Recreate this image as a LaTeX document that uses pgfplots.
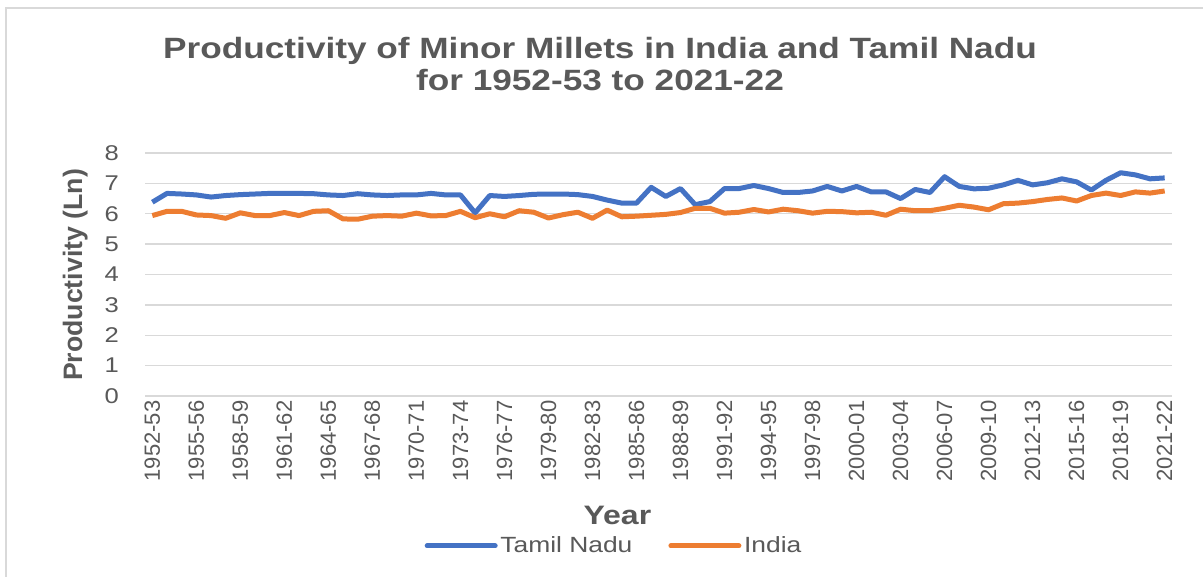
\documentclass[border=0pt]{standalone}
\usepackage{fontspec}
\usepackage{pgfplots}
\usepackage{pgfplotstable}
\pgfplotsset{compat=1.18}
\setmainfont[FakeStretch=1.2]{Liberation Sans}
\newfontfamily\plainsans{Liberation Sans}
\definecolor{tnblue}{HTML}{4472C4}
\definecolor{inorange}{HTML}{ED7D31}
\definecolor{txtgray}{HTML}{595959}
\definecolor{gridgray}{HTML}{D9D9D9}

% year index (0 = 1952-53), Tamil Nadu, India
\pgfplotstableread{
x  tn    in
0  6.38  5.94
1  6.67  6.08
2  6.65  6.08
3  6.62  5.96
4  6.55  5.94
5  6.60  5.85
6  6.63  6.03
7  6.65  5.94
8  6.67  5.94
9  6.67  6.04
10 6.67  5.94
11 6.66  6.08
12 6.62  6.10
13 6.60  5.83
14 6.66  5.82
15 6.62  5.92
16 6.60  5.94
17 6.62  5.92
18 6.62  6.02
19 6.67  5.93
20 6.62  5.94
21 6.62  6.08
22 6.03  5.87
23 6.60  6.00
24 6.57  5.90
25 6.60  6.10
26 6.64  6.05
27 6.65  5.86
28 6.65  5.97
29 6.63  6.05
30 6.57  5.85
31 6.45  6.12
32 6.35  5.90
33 6.35  5.92
34 6.87  5.95
35 6.57  5.98
36 6.83  6.04
37 6.30  6.18
38 6.40  6.18
39 6.83  6.02
40 6.83  6.05
41 6.93  6.14
42 6.83  6.06
43 6.70  6.15
44 6.70  6.10
45 6.75  6.02
46 6.90  6.08
47 6.75  6.07
48 6.90  6.03
49 6.72  6.05
50 6.72  5.95
51 6.50  6.15
52 6.80  6.10
53 6.70  6.10
54 7.22  6.18
55 6.90  6.28
56 6.82  6.22
57 6.84  6.13
58 6.95  6.33
59 7.10  6.35
60 6.95  6.40
61 7.02  6.47
62 7.15  6.52
63 7.05  6.42
64 6.78  6.60
65 7.10  6.68
66 7.35  6.60
67 7.28  6.72
68 7.15  6.68
69 7.18  6.75
}\millets

\begin{document}
\begin{tikzpicture}
  \useasboundingbox (0,0) rectangle (902.25pt,432.75pt);
  \fill[white] (0,0) rectangle (902.25pt,432.75pt);
  % chart frame
  \draw[gridgray, line width=1.3pt] (4.5pt,-5pt) -- (4.5pt,426.75pt) -- (910pt,426.75pt);
  \node[font=\bfseries\fontsize{22}{24}\selectfont, text=txtgray, align=center]
    at (450pt,384.75pt) {Productivity of Minor Millets in India and Tamil Nadu\\for 1952-53 to 2021-22};
  \begin{axis}[
    at={(108.75pt,135.75pt)}, anchor=south west,
    scale only axis,
    width=770.25pt, height=182.25pt,
    xmin=-0.5, xmax=69.5,
    ymin=0, ymax=8,
    ytick={0,1,...,8},
    xtick={0,3,...,69},
    xticklabels={1952-53,1955-56,1958-59,1961-62,1964-65,1967-68,1970-71,1973-74,
      1976-77,1979-80,1982-83,1985-86,1988-89,1991-92,1994-95,1997-98,2000-01,
      2003-04,2006-07,2009-10,2012-13,2015-16,2018-19,2021-22},
    axis line style={draw=none},
    major tick length=0pt,
    ymajorgrids,
    grid style={gridgray, line width=1.1pt},
    /pgf/number format/assume math mode=true,
    xticklabel style={rotate=90, anchor=east, text=txtgray,
      font=\plainsans\fontsize{16.5}{16.5}\selectfont},
    yticklabel style={text=txtgray, xshift=-16pt,
      font=\fontsize{16}{16}\selectfont},
    xlabel={Year},
    xlabel style={at={(axis description cs:0.46,-0.49)}, anchor=center,
      text=txtgray, font=\bfseries\fontsize{20}{20}\selectfont},
    ylabel={Productivity (Ln)},
    ylabel style={at={(axis description cs:-0.068,0.498)}, anchor=center, rotate=0,
      text=txtgray, font=\plainsans\bfseries\fontsize{20}{20}\selectfont},
    legend columns=2,
    legend style={draw=none, fill=none, at={(axis description cs:0.457,-0.617)},
      anchor=center, text=txtgray, font=\fontsize{16.5}{16.5}\selectfont,
      /tikz/every even column/.append style={column sep=25pt}},
    legend image code/.code={\draw[#1, line cap=round] (0pt,0pt) -- (51pt,0pt);},
    every axis plot/.append style={line width=3.75pt, line join=round, no markers},
  ]
    \addplot[tnblue] table[x=x, y=tn] {\millets};
    \addlegendentry{Tamil Nadu}
    \addplot[inorange] table[x=x, y=in] {\millets};
    \addlegendentry{India}
  \end{axis}
\end{tikzpicture}
\end{document}
